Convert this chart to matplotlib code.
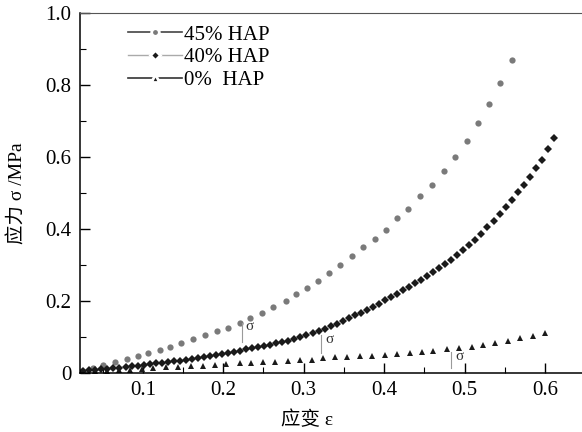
import matplotlib
matplotlib.use("Agg")
import matplotlib.pyplot as plt
from matplotlib.lines import Line2D
from matplotlib.ticker import MultipleLocator

plt.rcParams["font.family"] = ["Liberation Serif", "Noto Sans CJK SC"]

# 45% HAP (grey circles)
strain_45 = [0.024, 0.038, 0.051, 0.065, 0.080, 0.094, 0.107, 0.121, 0.134, 0.148,
             0.163, 0.177, 0.192, 0.206, 0.221, 0.233, 0.248, 0.262, 0.278, 0.291,
             0.304, 0.318, 0.331, 0.345, 0.360, 0.374, 0.389, 0.402, 0.416, 0.430,
             0.444, 0.459, 0.474, 0.488, 0.503, 0.517, 0.530, 0.544, 0.559]
stress_45 = [0.005, 0.013, 0.022, 0.029, 0.038, 0.048, 0.056, 0.064, 0.073, 0.084,
             0.095, 0.105, 0.115, 0.125, 0.138, 0.152, 0.166, 0.183, 0.200, 0.219,
             0.237, 0.256, 0.277, 0.300, 0.325, 0.349, 0.371, 0.396, 0.431, 0.456,
             0.490, 0.522, 0.562, 0.601, 0.644, 0.694, 0.746, 0.805, 0.869]

# 40% HAP (black diamonds)
strain_40 = [0.026, 0.0335, 0.041, 0.0485, 0.056, 0.0635, 0.071, 0.0785, 0.086, 0.0935,
             0.101, 0.1085, 0.116, 0.1235, 0.131, 0.1385, 0.146, 0.1535, 0.161, 0.1685,
             0.176, 0.1835, 0.191, 0.1985, 0.206, 0.2135, 0.221, 0.2285, 0.236, 0.2435,
             0.251, 0.2585, 0.266, 0.2735, 0.281, 0.2885, 0.296, 0.3035, 0.311, 0.3185,
             0.326, 0.3335, 0.341, 0.3485, 0.356, 0.3635, 0.371, 0.3785, 0.386, 0.3935,
             0.401, 0.4085, 0.416, 0.4235, 0.431, 0.4385, 0.446, 0.4535, 0.461, 0.4685,
             0.476, 0.4835, 0.491, 0.4985, 0.506, 0.5135, 0.521, 0.5285, 0.536, 0.5435,
             0.551, 0.5585, 0.566, 0.5735, 0.581, 0.5885, 0.596, 0.6035, 0.611]
stress_40 = [0.005, 0.007, 0.008, 0.010, 0.011, 0.013, 0.014, 0.016, 0.018, 0.020,
             0.022, 0.024, 0.026, 0.028, 0.030, 0.032, 0.034, 0.037, 0.039, 0.042,
             0.045, 0.047, 0.050, 0.053, 0.056, 0.059, 0.062, 0.065, 0.068, 0.071,
             0.074, 0.078, 0.082, 0.085, 0.089, 0.093, 0.099, 0.104, 0.110, 0.116,
             0.122, 0.129, 0.137, 0.145, 0.152, 0.160, 0.167, 0.175, 0.183, 0.192,
             0.201, 0.210, 0.219, 0.229, 0.239, 0.249, 0.259, 0.270, 0.280, 0.290,
             0.302, 0.314, 0.327, 0.341, 0.355, 0.369, 0.386, 0.404, 0.422, 0.440,
             0.460, 0.481, 0.502, 0.523, 0.544, 0.568, 0.592, 0.621, 0.652]

# 0% HAP (black triangles)
strain_0 = [0.025, 0.040, 0.055, 0.070, 0.084, 0.099, 0.113, 0.129, 0.144, 0.160,
            0.175, 0.190, 0.204, 0.221, 0.235, 0.250, 0.264, 0.281, 0.295, 0.310,
            0.324, 0.339, 0.354, 0.370, 0.385, 0.401, 0.416, 0.432, 0.447, 0.461,
            0.478, 0.493, 0.509, 0.523, 0.538, 0.554, 0.569, 0.585, 0.600]
stress_0 = [0.002, 0.004, 0.006, 0.008, 0.009, 0.010, 0.012, 0.015, 0.017, 0.019,
            0.020, 0.022, 0.024, 0.026, 0.028, 0.030, 0.031, 0.033, 0.035, 0.037,
            0.040, 0.043, 0.044, 0.046, 0.047, 0.050, 0.052, 0.055, 0.058, 0.062,
            0.066, 0.069, 0.073, 0.078, 0.083, 0.089, 0.096, 0.103, 0.110]

# sigma markers: (bar x, bar bottom, bar top, text x, text y)
sigma_marks = [(0.223, 0.087, 0.139, 0.228, 0.128),
               (0.322, 0.055, 0.105, 0.327, 0.092),
               (0.483, 0.013, 0.059, 0.488, 0.046)]

legend_labels = ["45% HAP", "40% HAP", "0%  HAP"]

fig = plt.figure(figsize=(5.82, 4.32), dpi=100)
ax = fig.add_axes([0.137, 0.137, 0.863, 0.833])

ax.plot(strain_45, stress_45, "o", color="#7a7a7a", markersize=4.5, markeredgewidth=0)
ax.plot(strain_40, stress_40, "D", color="#1a1a1a", markersize=3.8, markeredgewidth=0)
ax.plot(strain_0, stress_0, "^", color="#1a1a1a", markersize=4.5, markeredgewidth=0)

for bx, b0, b1, tx, ty in sigma_marks:
    ax.plot([bx, bx], [b0, b1], color="#9a9a9a", lw=0.8)
    ax.text(tx, ty, "σ", fontsize=11, color="#333333", va="center", ha="left")

ax.set_xlim(0.0216, 0.646)
ax.set_ylim(0, 1.0)
ax.xaxis.set_minor_locator(MultipleLocator(0.05))
ax.yaxis.set_minor_locator(MultipleLocator(0.1))
ax.set_yticks([0, 0.2, 0.4, 0.6, 0.8, 1.0])
ax.set_yticklabels(["0", "0.2", "0.4", "0.6", "0.8", "1.0"])
ax.set_xticks([0.1, 0.2, 0.3, 0.4, 0.5, 0.6])
ax.set_xticklabels(["0.1", "0.2", "0.3", "0.4", "0.5", "0.6"])
ax.tick_params(which="major", direction="in", length=7, width=1, labelsize=15, pad=6)
ax.tick_params(which="minor", direction="in", length=4, width=0.8)
ax.spines["right"].set_visible(False)
ax.spines["top"].set_color("#555555")
for s in ["left", "bottom"]:
    ax.spines[s].set_linewidth(1.1)

ax.set_xlabel("应变 ε", fontsize=14)
ax.xaxis.set_label_coords(0.452, -0.105)
ax.xaxis.label.set_va("top")
ax.set_ylabel("应力 σ /MPa", fontsize=14)
ax.yaxis.set_label_coords(-0.105, 0.5)

handles = [
    Line2D([], [], color="#444444", lw=1.2, marker="o", markersize=5.5,
           markerfacecolor="#7a7a7a", markeredgecolor="white", markeredgewidth=2),
    Line2D([], [], color="#aaaaaa", lw=1.0, marker="D", markersize=5,
           markerfacecolor="#1a1a1a", markeredgecolor="white", markeredgewidth=2),
    Line2D([], [], color="#333333", lw=1.2, marker="^", markersize=6,
           markerfacecolor="#1a1a1a", markeredgecolor="white", markeredgewidth=2),
]
ax.legend(handles, legend_labels, loc="upper left", bbox_to_anchor=(0.075, 0.995),
          frameon=False, fontsize=15, handlelength=2.6, handletextpad=0.1,
          labelspacing=0.15, borderpad=0, numpoints=1)

fig.savefig("out.png", dpi=100)
